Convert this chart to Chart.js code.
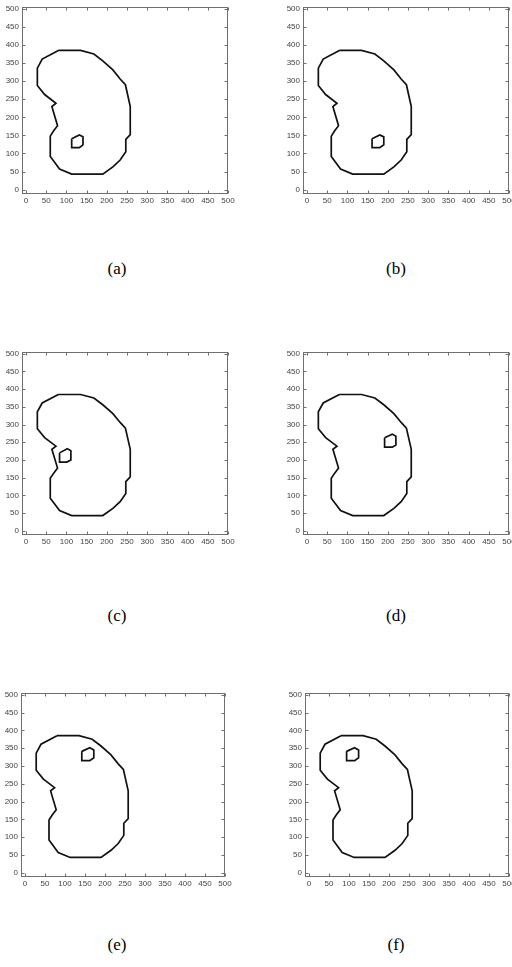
<!DOCTYPE html>
<html>
<head>
<meta charset="utf-8">
<script src="https://cdn.jsdelivr.net/npm/chart.js@4.4.1/dist/chart.umd.min.js"></script>
<style>
  body { margin: 0; background: #fff; width: 512px; height: 967px; position: relative; overflow: hidden; }
  .panel { position: absolute; }
  .cap { position: absolute; font-family: "Liberation Serif", "Times New Roman", serif; font-size: 17px; color: #000; transform: translate(-50%, -50%); white-space: nowrap; }
</style>
</head>
<body>
<script>
"use strict";

// outline of the kidney, same in every panel
const kidneyX = [80, 135, 168, 190, 215, 233, 246, 258, 258, 247, 247, 233, 215, 190, 113, 83, 60, 60, 68, 78, 64, 74, 46, 28, 28, 40, 80];
const kidneyY = [385, 385, 375, 356, 331, 306, 290, 230, 152, 139, 105, 82, 63, 43, 43, 57, 92, 148, 162, 177, 230, 239, 263, 288, 336, 361, 385];

// the small hexagon, one per panel
const holeAX = [113, 132, 141, 141, 132, 113, 113];
const holeAY = [141, 151, 146, 124, 116, 116, 141];
const holeBX = [161, 180, 190, 190, 180, 161, 161];
const holeBY = [141, 151, 146, 124, 116, 116, 141];
const holeCX = [83, 102, 111, 111, 101, 83, 83];
const holeCY = [220, 232, 226, 200, 194, 194, 220];
const holeDX = [192, 211, 220, 220, 211, 192, 192];
const holeDY = [263, 273, 267, 242, 236, 236, 263];
const holeEX = [142, 162, 172, 172, 162, 142, 142];
const holeEY = [341, 351, 345, 323, 315, 315, 341];
const holeFX = [94, 114, 124, 124, 114, 94, 94];
const holeFY = [341, 351, 345, 323, 315, 315, 341];

const tickValues = [0, 50, 100, 150, 200, 250, 300, 350, 400, 450, 500];
const panelLabels = ["(a)", "(b)", "(c)", "(d)", "(e)", "(f)"];

const holesX = [holeAX, holeBX, holeCX, holeDX, holeEX, holeFX];
const holesY = [holeAY, holeBY, holeCY, holeDY, holeEY, holeFY];

// plot boxes in page pixels, and caption centres
const boxes = [
  { L: 22, T: 7, R: 228, B: 194, cx: 117, cy: 269 },
  { L: 303, T: 7, R: 509, B: 194, cx: 396, cy: 269 },
  { L: 22, T: 352, R: 228, B: 535, cx: 117, cy: 616 },
  { L: 303, T: 352, R: 509, B: 535, cx: 396, cy: 616 },
  { L: 21, T: 693, R: 225, B: 877, cx: 117, cy: 945 },
  { L: 305, T: 693, R: 509, B: 877, cx: 396, cy: 945 }
];

const PAD_L = 22, PAD_T = 7, PAD_R = 12, PAD_B = 16;

function pairs(xs, ys) {
  return xs.map((x, i) => ({ x: x, y: ys[i] }));
}

// box with inward ticks on all four sides, matlab style
const framePlugin = {
  id: "frame",
  afterDraw(chart) {
    const ctx = chart.ctx;
    const a = chart.chartArea;
    const sx = chart.scales.x, sy = chart.scales.y;
    const l = Math.round(a.left) + 0.5, r = Math.round(a.right) - 0.5;
    const t = Math.round(a.top) + 0.5, b = Math.round(a.bottom) - 0.5;
    ctx.save();
    ctx.strokeStyle = "#6f6f6f";
    ctx.lineWidth = 1;
    ctx.strokeRect(l, t, r - l, b - t);
    ctx.beginPath();
    sx.ticks.forEach(tk => {
      const p = Math.round(sx.getPixelForValue(tk.value)) + 0.5;
      ctx.moveTo(p, b); ctx.lineTo(p, b - 3);
      ctx.moveTo(p, t); ctx.lineTo(p, t + 3);
    });
    sy.ticks.forEach(tk => {
      const p = Math.round(sy.getPixelForValue(tk.value)) + 0.5;
      ctx.moveTo(l, p); ctx.lineTo(l + 3, p);
      ctx.moveTo(r, p); ctx.lineTo(r - 3, p);
    });
    ctx.stroke();
    ctx.restore();
  }
};

const tickFont = { family: "'Liberation Sans Narrow', 'Arial Narrow', 'Liberation Sans', sans-serif", size: 8 };

boxes.forEach((bx, i) => {
  const w = (bx.R - bx.L) + PAD_L + PAD_R;
  const h = (bx.B - bx.T) + PAD_T + PAD_B;
  const div = document.createElement("div");
  div.className = "panel";
  div.style.left = (bx.L - PAD_L) + "px";
  div.style.top = (bx.T - PAD_T) + "px";
  div.style.width = w + "px";
  div.style.height = h + "px";
  const canvas = document.createElement("canvas");
  canvas.width = w;
  canvas.height = h;
  div.appendChild(canvas);
  document.body.appendChild(div);

  const cap = document.createElement("div");
  cap.className = "cap";
  cap.style.left = bx.cx + "px";
  cap.style.top = bx.cy + "px";
  cap.textContent = panelLabels[i];
  document.body.appendChild(cap);

  new Chart(canvas.getContext("2d"), {
    type: "scatter",
    data: {
      datasets: [
        {
          data: pairs(kidneyX, kidneyY),
          showLine: true,
          borderColor: "#111",
          borderWidth: 1.7,
          pointRadius: 0,
          tension: 0
        },
        {
          data: pairs(holesX[i], holesY[i]),
          showLine: true,
          borderColor: "#111",
          borderWidth: 1.7,
          pointRadius: 0,
          tension: 0
        }
      ]
    },
    options: {
      responsive: false,
      animation: false,
      devicePixelRatio: 1,
      layout: { padding: { top: PAD_T, right: PAD_R, left: 0, bottom: 0 } },
      plugins: { legend: { display: false }, tooltip: { enabled: false } },
      scales: {
        x: {
          type: "linear",
          min: -10,
          max: 500,
          afterBuildTicks: s => { s.ticks = tickValues.map(v => ({ value: v })); },
          afterFit: s => { s.height = PAD_B; s.paddingLeft = 0; s.paddingRight = 0; },
          grid: { display: false, drawTicks: false, tickLength: 0 },
          border: { display: false },
          ticks: { font: tickFont, color: "#444", padding: 2, maxRotation: 0, autoSkip: false }
        },
        y: {
          type: "linear",
          min: -12,
          max: 505,
          afterBuildTicks: s => { s.ticks = tickValues.map(v => ({ value: v })); },
          afterFit: s => { s.width = PAD_L; s.paddingTop = 0; s.paddingBottom = 0; },
          grid: { display: false, drawTicks: false, tickLength: 0 },
          border: { display: false },
          ticks: { font: tickFont, color: "#444", padding: 3, autoSkip: false }
        }
      }
    },
    plugins: [framePlugin]
  });
});
</script>
</body>
</html>
